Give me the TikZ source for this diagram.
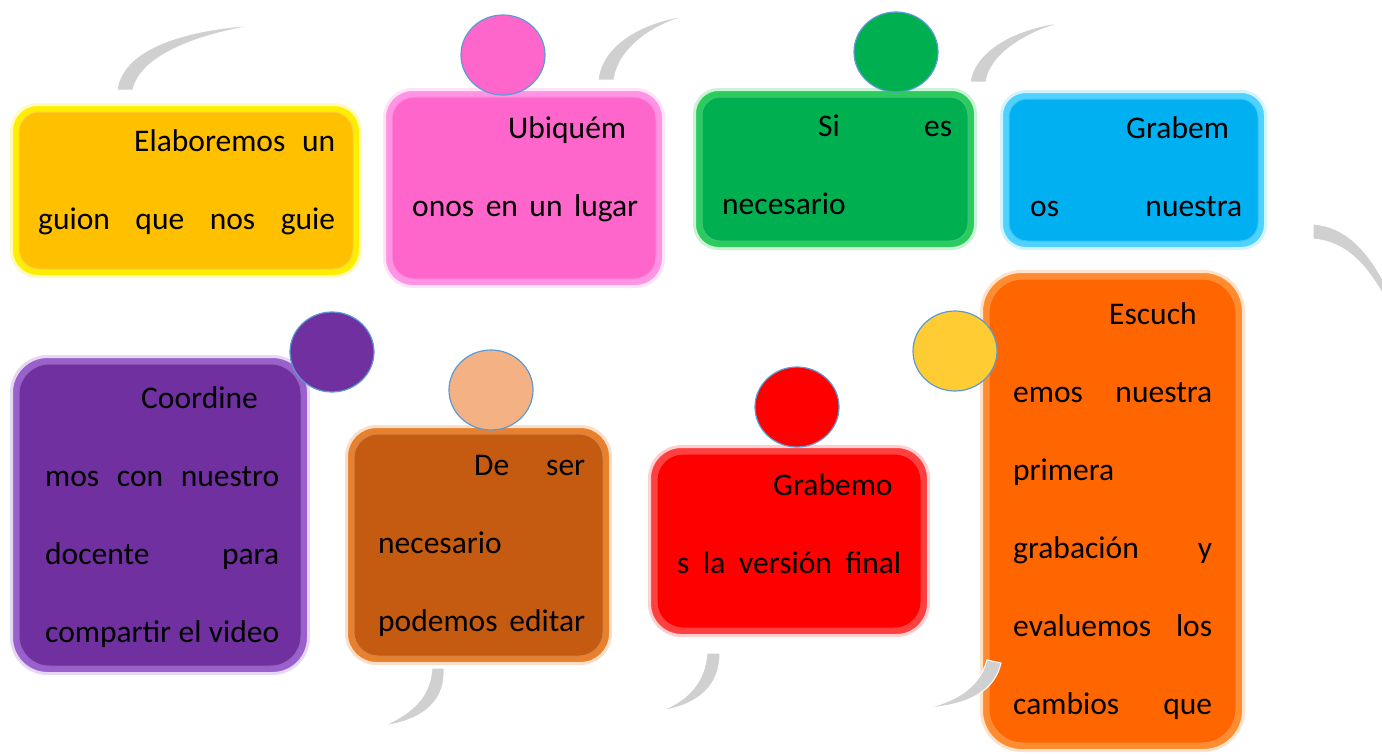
\documentclass[tikz,border=0pt]{standalone}
\usepackage{fontspec}
\setmainfont{Carlito}
\definecolor{amarillo}{HTML}{FFC000}
\definecolor{amarilloborde}{HTML}{FFEE00}
\definecolor{rosa}{HTML}{FF66CC}
\definecolor{rosaborde}{HTML}{FF94E4}
\definecolor{verde}{HTML}{00B050}
\definecolor{verdeborde}{HTML}{2CCC5C}
\definecolor{celeste}{HTML}{00B0F0}
\definecolor{celesteborde}{HTML}{50D2FF}
\definecolor{morado}{HTML}{7030A0}
\definecolor{moradoborde}{HTML}{9A60CE}
\definecolor{cafe}{HTML}{C55A11}
\definecolor{cafeborde}{HTML}{E8802C}
\definecolor{rojo}{HTML}{FF0000}
\definecolor{rojoborde}{HTML}{FF4040}
\definecolor{naranja}{HTML}{FF6600}
\definecolor{naranjaborde}{HTML}{FF8C2E}
\definecolor{durazno}{HTML}{F4B183}
\definecolor{dorado}{HTML}{FFCC33}
\definecolor{azulborde}{HTML}{5B9BD5}
\definecolor{gris}{HTML}{D0D0D0}
\tikzset{
  arco/.style={fill=gris, draw=white, line width=1pt},
  bola/.style={fill=#1, draw=azulborde, line width=1.2pt},
  texto/.style={anchor=base west, inner sep=0pt, text width=#1, align=justify,
    font=\fontsize{31.5}{78}\selectfont}
}
\newcommand\sangria{\parfillskip=0pt\hspace*{96pt}}
\begin{document}
\begin{tikzpicture}[x=1pt,y=-1pt]
\useasboundingbox (0,0) rectangle (1382,755);
\foreach \xa/\ya/\xb/\yb/\r/\c/\rc in {10/103/362/278/amarilloborde/amarillo/26pt,
  383/88/665/288/rosaborde/rosa/28pt, 693/88/977/250/verdeborde/verde/24pt,
  1000/90/1267/250/celesteborde/celeste/24pt, 10/355/310/675/moradoborde/morado/36pt,
  345/425/612/665/cafeborde/cafe/30pt, 648/445/930/637/rojoborde/rojo/32pt,
  980/270/1245/752/naranjaborde/naranja/40pt}
{
  \draw[fill=\r, draw=\r!25!white, line width=3pt, rounded corners=\rc] (\xa+1.5,\ya+1.5) rectangle (\xb-1.5,\yb-1.5);
  \draw[fill=\c, draw=\c!75!white, line width=1pt, rounded corners=\rc-6pt] (\xa+9,\ya+9) rectangle (\xb-9,\yb-9);
}
\draw[arco] (117,90) .. controls (122,52) and (175,30) .. (257,25) .. controls (190,36) and (140,58) .. (133,90) -- cycle;
\draw[arco] (598,80) .. controls (602,45) and (640,22) .. (690,15) .. controls (650,25) and (618,50) .. (614,80) -- cycle;
\draw[arco] (970,82) .. controls (975,50) and (1015,28) .. (1065,22) .. controls (1025,32) and (990,55) .. (986,82) -- cycle;
\draw[arco] (1313,224) .. controls (1345,226) and (1368,250) .. (1386,286) -- (1386,300) .. controls (1365,262) and (1345,242) .. (1313,239) -- cycle;
\draw[arco] (432,668) -- (444,668) .. controls (446,700) and (425,720) .. (383,726) .. controls (415,712) and (430,695) .. (432,668) -- cycle;
\draw[arco] (707,653) -- (720,653) .. controls (720,685) and (700,705) .. (660,711) .. controls (690,700) and (705,680) .. (707,653) -- cycle;
\draw[arco] (987,660) -- (1001,663) .. controls (995,690) and (970,705) .. (927,708) .. controls (960,700) and (980,685) .. (987,660) -- cycle;
\foreach \x/\y/\c in {503/55/rosa, 896/52/verde, 332/352/morado, 491/390/durazno, 797/407/rojo, 955/351/dorado}
  \draw[bola=\c] (\x,\y) ellipse [x radius=42pt, y radius=40pt];
\node[texto=297pt] (guion) at (38,151) {\sangria Elaboremos un\linebreak guion que nos guie\par};
\node[texto=226pt] (lugar) at (412,138) {\sangria Ubiquém\linebreak onos en un lugar\par};
\node[texto=230pt] (necesario) at (722,136) {\sangria Si es\linebreak necesario\par};
\node[texto=212pt] (grabemos) at (1030,138) {\sangria Grabem\linebreak os nuestra\par};
\node[texto=234pt] (coordinemos) at (45,408) {\sangria Coordine\linebreak mos con nuestro\linebreak docente para\linebreak compartir el video\par};
\node[texto=207pt] (editar) at (378,475) {\sangria De ser\linebreak necesario\linebreak podemos editar\par};
\node[texto=224pt] (final) at (677,495) {\sangria Grabemo\linebreak s la versión final\par};
\node[texto=199pt] (escuchemos) at (1013,324) {\sangria Escuch\linebreak emos nuestra\linebreak primera\linebreak grabación y\linebreak evaluemos los\linebreak cambios que\par};
\end{tikzpicture}
\end{document}
